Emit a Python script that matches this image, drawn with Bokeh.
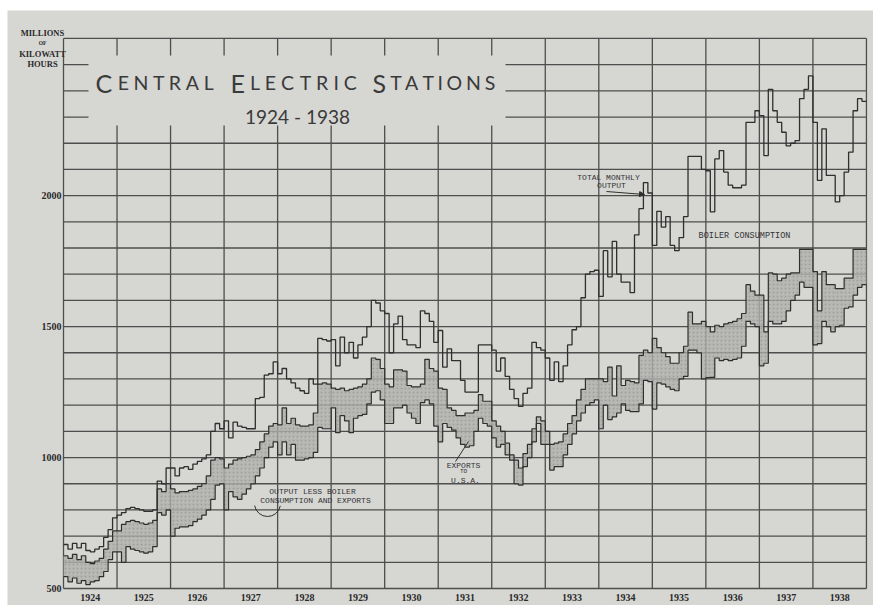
import numpy as np
from bokeh.plotting import figure
from bokeh.models import Label, Arrow, NormalHead, ColumnDataSource, Spacer
from bokeh.layouts import row, column
from bokeh.core.properties import value
from bokeh.embed import file_html
from bokeh.resources import INLINE

# ---------------- data (millions of kWh, monthly, Jan 1924 .. Dec 1938) ----------------
years = list(range(1924, 1939))
year_labels = [str(y) for y in years]
y_ticks = [500, 1000, 1500, 2000]
y_tick_labels = ["500", "1000", "1500", "2000"]

total_output = [
    668, 650, 672, 655, 672, 645, 640, 650, 660, 695, 725, 770,          # 1924
    780, 790, 805, 810, 805, 800, 795, 795, 800, 910, 900, 960,          # 1925
    960, 930, 960, 965, 955, 975, 985, 995, 1010, 1100, 1130, 1110,      # 1926
    1140, 1075, 1135, 1120, 1115, 1110, 1110, 1225, 1230, 1315, 1320, 1365,  # 1927
    1320, 1340, 1300, 1285, 1265, 1255, 1245, 1300, 1280, 1455, 1450, 1445,  # 1928
    1450, 1350, 1460, 1400, 1440, 1380, 1430, 1460, 1500, 1600, 1590, 1560,  # 1929
    1550, 1400, 1510, 1540, 1450, 1430, 1430, 1420, 1560, 1550, 1520, 1440,  # 1930
    1485, 1345, 1415, 1370, 1370, 1295, 1250, 1250, 1250, 1430, 1430, 1430,  # 1931
    1410, 1330, 1380, 1310, 1260, 1225, 1195, 1245, 1265, 1440, 1420, 1410,  # 1932
    1380, 1295, 1365, 1290, 1350, 1430, 1488, 1500, 1610, 1700, 1710, 1715,  # 1933
    1615, 1790, 1690, 1825, 1700, 1670, 1670, 1630, 1850, 1950, 2050, 2010,  # 1934
    1810, 1940, 1880, 1920, 1810, 1790, 1840, 1920, 2150, 2150, 2150, 2100,  # 1935
    2095, 1938, 2140, 2172, 2090, 2040, 2030, 2030, 2040, 2280, 2280, 2324,  # 1936
    2305, 2153, 2406, 2324, 2280, 2242, 2190, 2200, 2210, 2370, 2406, 2457,  # 1937
    2280, 2058, 2255, 2077, 2077, 1976, 2000, 2090, 2166, 2324, 2370, 2360,  # 1938
]

output_less_boiler = [
    625, 615, 630, 610, 625, 600, 595, 605, 615, 650, 680, 720,
    720, 745, 755, 760, 755, 750, 745, 750, 760, 880, 870, 900,
    880, 865, 870, 870, 875, 880, 890, 900, 930, 990, 1000, 995,
    960, 975, 990, 995, 1000, 1005, 1010, 1030, 1060, 1090, 1120, 1130,
    1125, 1190, 1130, 1150, 1125, 1120, 1120, 1125, 1170, 1280, 1285, 1280,
    1265, 1260, 1265, 1255, 1260, 1265, 1270, 1280, 1300, 1380, 1375, 1340,
    1280, 1270, 1335, 1335, 1330, 1275, 1270, 1270, 1280, 1375, 1340, 1330,
    1265, 1260, 1190, 1180, 1160, 1160, 1170, 1170, 1180, 1240, 1215, 1215,
    1140, 1120, 1100, 1055, 1010, 990, 960, 1015, 1050, 1110, 1155, 1140,
    1100, 1050, 1055, 1060, 1090, 1130, 1160, 1220, 1260, 1300, 1300, 1300,
    1300, 1290, 1345, 1235, 1350, 1275, 1295, 1290, 1285, 1390, 1410, 1400,
    1455, 1420, 1400, 1385, 1360, 1360, 1400, 1425, 1555, 1510, 1510, 1520,
    1500, 1480, 1505, 1500, 1510, 1515, 1520, 1530, 1550, 1660, 1635, 1620,
    1620, 1480, 1705, 1700, 1675, 1685, 1700, 1705, 1705, 1795, 1795, 1795,
    1710, 1560, 1710, 1660, 1660, 1645, 1645, 1685, 1685, 1795, 1795, 1795,
]

output_less_boiler_and_exports = [
    545, 525, 540, 520, 530, 515, 525, 530, 545, 565, 610, 640,
    640, 600, 660, 650, 645, 640, 635, 640, 660, 790, 780, 800,
    700, 730, 735, 735, 740, 755, 765, 780, 800, 840, 895, 900,
    800, 870, 850, 840, 860, 880, 900, 930, 960, 1000, 1040, 1060,
    1010, 1060, 1010, 1050, 990, 990, 995, 1000, 1020, 1115, 1110, 1110,
    1190, 1095, 1160, 1140, 1095, 1150, 1160, 1165, 1205, 1250, 1255, 1220,
    1130, 1130, 1190, 1190, 1200, 1170, 1150, 1130, 1210, 1220, 1205, 1120,
    1060, 1130, 1115, 1105, 1075, 1050, 1040, 1045, 1100, 1150, 1130, 1120,
    1075, 1040, 1050, 1010, 990, 900, 895, 965, 1000, 1060, 1130, 1050,
    1050, 952, 965, 965, 1010, 1050, 1090, 1140, 1170, 1200, 1210, 1220,
    1110, 1200, 1145, 1155, 1170, 1205, 1180, 1175, 1175, 1205, 1295, 1290,
    1185, 1285, 1280, 1270, 1260, 1255, 1300, 1310, 1410, 1410, 1400, 1300,
    1305, 1306, 1380, 1370, 1375, 1370, 1375, 1380, 1425, 1520, 1510, 1500,
    1350, 1360, 1520, 1510, 1510, 1520, 1560, 1600, 1620, 1670, 1650, 1650,
    1430, 1435, 1520, 1500, 1480, 1500, 1505, 1570, 1575, 1620, 1650, 1660,
]

# ---------------- step sources ----------------
n = len(total_output)
x_month = list(years[0] + np.arange(n + 1) / 12.0)
def close(v):
    return list(v) + [v[-1]]
src = ColumnDataSource(dict(
    x=x_month,
    total=close(total_output),
    boiler=close(output_less_boiler),
    net=close(output_less_boiler_and_exports),
))

BG = "#d6d6d3"
INK = "#2f2f2f"
GRID = "#4e4e4e"

# reference-pixel -> data helpers (page coordinates of the 874x606 picture)
def rx(px):
    return 1924 + (px - 63) / 53.53
def ry(py):
    return 500 + (588 - py) * 3.818

PAGE_X0, PAGE_Y0 = 7, 10          # white strips at left / top of the scan
W, H = 866, 595

p = figure(width=W, height=H, output_backend="svg", toolbar_location=None,
           x_range=(rx(PAGE_X0), rx(PAGE_X0 + W)), y_range=(ry(PAGE_Y0 + H), ry(PAGE_Y0)),
           x_axis_location=None, y_axis_location=None,
           min_border=0, min_border_left=0, min_border_right=0,
           min_border_top=0, min_border_bottom=0,
           background_fill_color=BG, border_fill_color=BG, outline_line_color=None)
p.grid.visible = False

# ---------------- chart grid (years x 100-million steps) ----------------
y_lo, y_hi = 500, 2600
x_lo, x_hi = years[0], years[-1] + 1
h_levels = list(range(y_lo, y_hi + 1, 100))
v_levels = years + [x_hi]
p.segment(x0=[x_lo] * len(h_levels), x1=[x_hi] * len(h_levels), y0=h_levels, y1=h_levels,
          line_color=GRID, line_width=1.3)
p.segment(x0=v_levels, x1=v_levels, y0=[y_lo] * len(v_levels), y1=[y_hi] * len(v_levels),
          line_color=GRID, line_width=1.3)

# blank title panel (grid interrupted behind the title)
p.quad(left=[rx(88)], right=[rx(505)], bottom=[ry(125)], top=[ry(55)],
       fill_color=BG, line_color=None)

# ---------------- series ----------------
p.varea_step(x="x", y1="net", y2="boiler", step_mode="after", source=src,
             fill_color="#b0b0ae", fill_alpha=0.8,
             hatch_pattern="dot", hatch_color="#666666", hatch_alpha=0.3, hatch_scale=4)
p.step(x="x", y="boiler", mode="after", source=src, line_color=INK, line_width=1.2)
p.step(x="x", y="net", mode="after", source=src, line_color=INK, line_width=1.2)
p.step(x="x", y="total", mode="after", source=src, line_color=INK, line_width=1.3)

# ---------------- tick labels ----------------
p.text(x=[rx(61)] * len(y_ticks), y=y_ticks, text=y_tick_labels,
       text_font=value("Liberation Serif"), text_font_style="bold", text_font_size="10px",
       text_color="#2a2a2a", text_align="right", text_baseline="middle")
p.text(x=[y + 0.5 for y in years], y=[ry(597)] * len(years), text=year_labels,
       text_font=value("Liberation Serif"), text_font_style="bold", text_font_size="10px",
       text_color="#2a2a2a", text_align="center", text_baseline="middle")

# ---------------- title in small caps ----------------
ADV = {"C": .70, "E": .57, "N": .76, "T": .57, "R": .63, "A": .69, "L": .50,
       "I": .27, "S": .55, "O": .80}
def small_caps(word, x0, x1, base, big=25, small=19.5):
    sizes = [big] + [small] * (len(word) - 1)
    widths = [ADV[c] * s for c, s in zip(word, sizes)]
    gap = (x1 - x0 - sum(widths)) / (len(word) - 1)
    x = x0
    for c, s, w in zip(word, sizes, widths):
        p.add_layout(Label(x=rx(x), y=ry(base), text=c, text_font="Lato",
                           text_font_size=f"{s}px", text_color="#3a3a3a",
                           text_align="left", text_baseline="alphabetic"))
        x += w + gap

small_caps("CENTRAL", 95, 213, 82)
small_caps("ELECTRIC", 230, 357, 82)
small_caps("STATIONS", 372, 495, 82)
p.add_layout(Label(x=rx(297), y=ry(116), text="1924 - 1938", text_font="Lato",
                   text_font_size="19px", text_color="#3a3a3a",
                   text_align="center", text_baseline="alphabetic"))

# unit label (top left)
for txt, py, fs in [("MILLIONS", 32, "8.5px"), ("OF", 42, "5.5px"),
                    ("KILOWATT", 53, "8.5px"), ("HOURS", 63, "8.5px")]:
    p.add_layout(Label(x=rx(42), y=ry(py), text=txt, text_font="Liberation Serif",
                       text_font_style="bold", text_font_size=fs, text_color="#2a2a2a",
                       text_align="center", text_baseline="middle"))

# ---------------- annotations ----------------
def note(txt, px, py, fs="8px"):
    p.add_layout(Label(x=rx(px), y=ry(py), text=txt, text_font="Liberation Mono",
                       text_font_size=fs, text_color="#333333",
                       text_align="center", text_baseline="middle"))

note("TOTAL MONTHLY", 608, 177)
note("OUTPUT", 611, 185)
p.add_layout(Arrow(end=NormalHead(size=5, fill_color=INK, line_color=INK),
                   x_start=rx(606), y_start=ry(191), x_end=rx(644), y_end=ry(194),
                   line_color=INK, line_width=1))

note("BOILER CONSUMPTION", 744, 235, "8.5px")

note("EXPORTS", 463, 465)
note("TO", 463, 471, "6px")
note("U.S.A.", 465, 480)
p.add_layout(Arrow(end=None, x_start=rx(455), y_start=ry(461), x_end=rx(468), y_end=ry(441),
                   line_color=INK, line_width=1))

note("OUTPUT LESS BOILER", 312, 491)
note("CONSUMPTION AND EXPORTS", 315, 500)
p.arc(x=[rx(267)], y=[ry(503)], radius=13, radius_units="screen",
      start_angle=3.3, end_angle=6.1, direction="anticlock",
      line_color=INK, line_width=1)

layout = column(Spacer(height=PAGE_Y0), row(Spacer(width=PAGE_X0), p))
open("out.html", "w").write(file_html(layout, INLINE))
